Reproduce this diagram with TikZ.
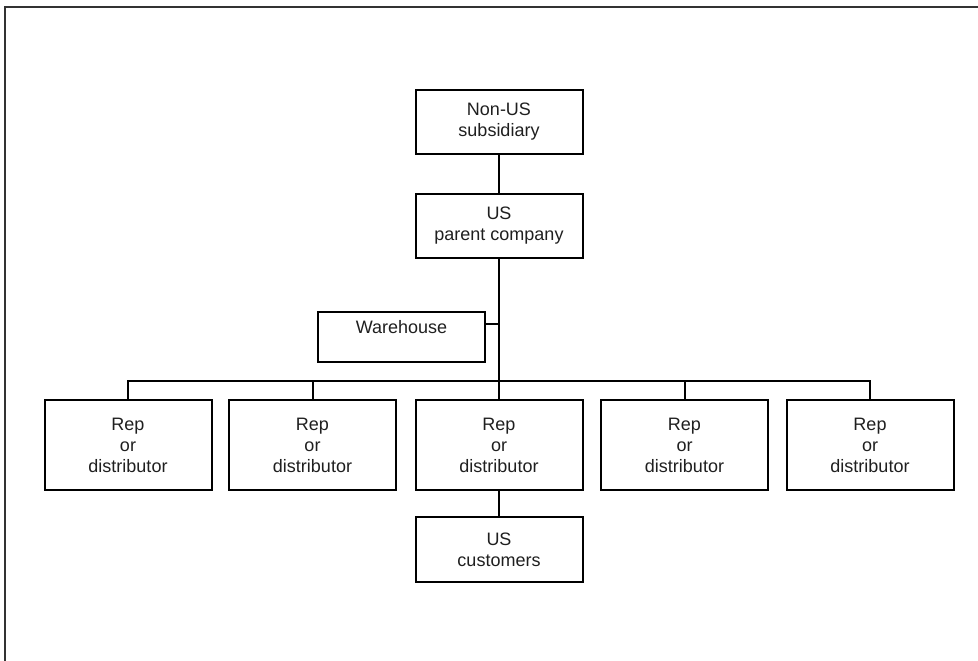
\documentclass[tikz,border=0pt]{standalone}
\usepackage{fontspec}
\setmainfont{Liberation Sans}
\begin{document}
\begin{tikzpicture}[x=1pt,y=-1pt,
  every node/.style={font=\fontsize{18}{21}\selectfont, text=black!88},
  box/.style={draw=black, line width=2pt, minimum width=167pt, align=center, inner sep=0pt},
  conn/.style={draw=black, line width=2pt}]
\useasboundingbox (0,0) rectangle (978,661);
% outer frame (top and left only)
\draw[line width=2pt, black!80] (5,661) -- (5,7) -- (978,7);
% nodes
\node[box, minimum height=64pt] (nonus) at (499,122) {Non-US\\subsidiary};
\node[box, minimum height=64pt] (parent) at (499,226) {US\\parent company};
\node[box, minimum height=50pt] (wh) at (401.5,337) {};
\node (whtext) at (401.5,327) {Warehouse};
\node[box, minimum height=90pt] (r1) at (128,445) {Rep\\or\\distributor};
\node[box, minimum height=90pt] (r2) at (312.5,445) {Rep\\or\\distributor};
\node[box, minimum height=90pt] (r3) at (499,445) {Rep\\or\\distributor};
\node[box, minimum height=90pt] (r4) at (684.5,445) {Rep\\or\\distributor};
\node[box, minimum height=90pt] (r5) at (870,445) {Rep\\or\\distributor};
\node[box, minimum height=65pt] (cust) at (499,549.5) {US\\customers};
% junctions
\coordinate (wj) at (499,324);
\coordinate (bus) at (499,381);
% connectors
\draw[conn] (nonus.south) -- (parent.north);
\draw[conn] (parent.south) -- (r3.north);
\draw[conn] (wj) -- (wh.east |- wj);
\draw[conn] (r1.north) -- (r1.north |- bus) -- (r5.north |- bus) -- (r5.north);
\draw[conn] (r2.north) -- (r2.north |- bus);
\draw[conn] (r4.north) -- (r4.north |- bus);
\draw[conn] (r3.south) -- (cust.north);
\end{tikzpicture}
\end{document}
